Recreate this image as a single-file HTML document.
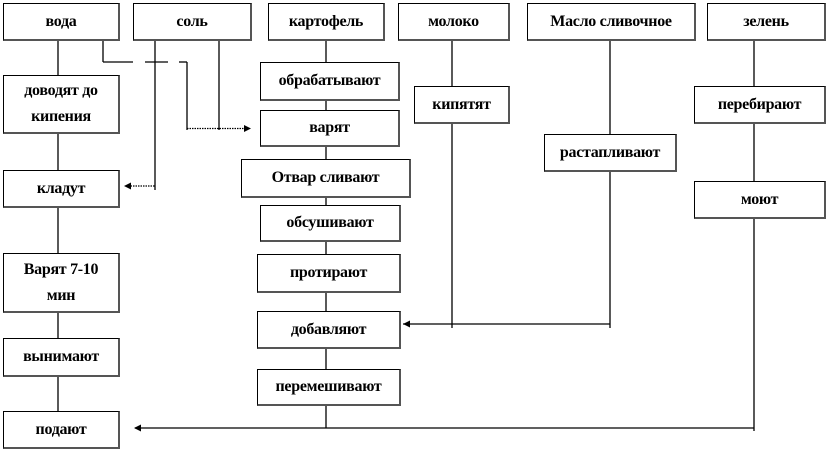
<!DOCTYPE html>
<html><head><meta charset="utf-8"><style>
body{margin:0;width:827px;height:451px;background:#fff;position:relative;overflow:hidden;font-family:"Liberation Serif","DejaVu Serif",serif;}
.b{position:absolute;box-sizing:border-box;border:1px solid #000;border-right:2px solid #555;border-bottom:2px solid #555;background:#fff;display:flex;align-items:center;justify-content:center;text-align:center;font-weight:bold;font-size:16px;line-height:26px;color:#000;letter-spacing:-0.3px;}
svg{position:absolute;left:0;top:0;}
</style></head><body>
<svg width="827" height="451">
<g stroke="#000" stroke-width="1.3" fill="none">
<line x1="58" y1="40" x2="58" y2="412"/>
<line x1="326" y1="40" x2="326" y2="428"/>
<line x1="452" y1="41" x2="452" y2="328"/>
<line x1="610" y1="41" x2="610" y2="328"/>
<line x1="754" y1="41" x2="754" y2="431"/>
<line x1="135" y1="428" x2="754" y2="428"/>
<line x1="403" y1="324" x2="610" y2="324"/>
<line x1="103" y1="40" x2="103" y2="62"/>
<line x1="103" y1="62" x2="133" y2="62"/>
<line x1="145" y1="62" x2="168" y2="62"/>
<line x1="179" y1="62" x2="187" y2="62"/>
<line x1="187" y1="62" x2="187" y2="130"/>
<line x1="155" y1="40" x2="155" y2="190"/>
<line x1="219" y1="40" x2="219" y2="130"/>
<line x1="187" y1="128.5" x2="246" y2="128.5" stroke-dasharray="1.5,1"/>
<line x1="128" y1="186" x2="155" y2="186" stroke-dasharray="1.5,1"/>
</g>
<g fill="#000">
<polygon points="251,128.5 244,125 244,132"/>
<polygon points="124,186 131,182.5 131,189.5"/>
<polygon points="403,324 410,320.5 410,327.5"/>
<polygon points="134,428 141,424.5 141,431.5"/>
</g>
</svg>
<div class="b" style="left:3px;top:3px;width:117px;height:38px">вода</div>
<div class="b" style="left:133px;top:3px;width:119px;height:38px">соль</div>
<div class="b" style="left:268px;top:3px;width:117px;height:38px">картофель</div>
<div class="b" style="left:398px;top:3px;width:112px;height:38px">молоко</div>
<div class="b" style="left:527px;top:3px;width:169px;height:38px">Масло сливочное</div>
<div class="b" style="left:707px;top:3px;width:119px;height:38px">зелень</div>
<div class="b" style="left:3px;top:75px;width:117px;height:59px">доводят до<br>кипения</div>
<div class="b" style="left:3px;top:170px;width:117px;height:38px">кладут</div>
<div class="b" style="left:3px;top:253px;width:117px;height:60px">Варят 7-10<br>мин</div>
<div class="b" style="left:3px;top:338px;width:117px;height:39px">вынимают</div>
<div class="b" style="left:3px;top:411px;width:117px;height:38px">подают</div>
<div class="b" style="left:260px;top:62px;width:140px;height:39px">обрабатывают</div>
<div class="b" style="left:260px;top:110px;width:140px;height:37px">варят</div>
<div class="b" style="left:241px;top:159px;width:170px;height:39px">Отвар сливают</div>
<div class="b" style="left:260px;top:205px;width:141px;height:37px">обсушивают</div>
<div class="b" style="left:257px;top:254px;width:144px;height:39px">протирают</div>
<div class="b" style="left:257px;top:311px;width:144px;height:38px">добавляют</div>
<div class="b" style="left:257px;top:369px;width:144px;height:37px">перемешивают</div>
<div class="b" style="left:414px;top:86px;width:96px;height:38px">кипятят</div>
<div class="b" style="left:544px;top:134px;width:133px;height:38px">растапливают</div>
<div class="b" style="left:694px;top:86px;width:132px;height:38px">перебирают</div>
<div class="b" style="left:694px;top:181px;width:132px;height:38px">моют</div>
</body></html>
